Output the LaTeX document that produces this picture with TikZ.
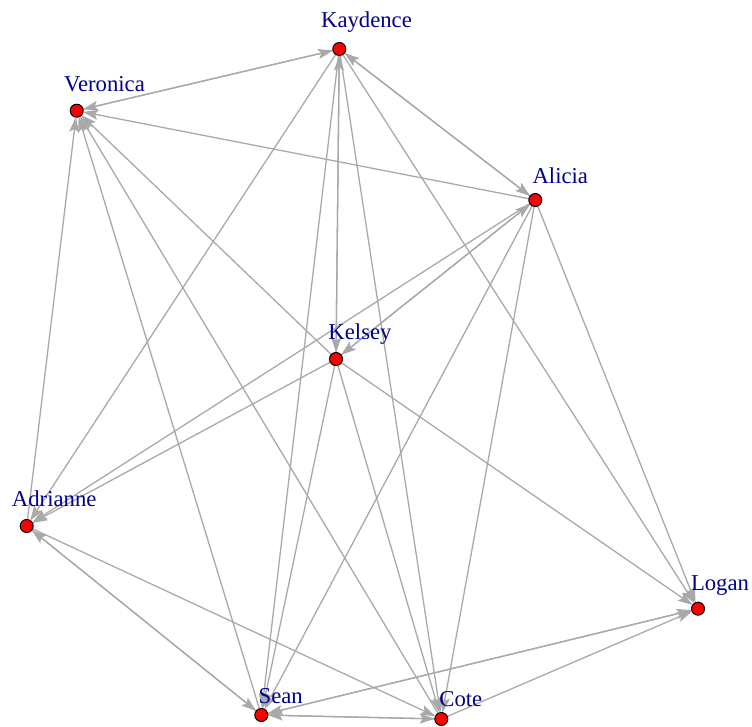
\documentclass[tikz,border=0pt]{standalone}
\usepackage{fontspec}
\setmainfont{Liberation Serif}
\usetikzlibrary{arrows.meta,backgrounds}

\definecolor{edgegrey}{HTML}{A9A9A9}
\definecolor{labelblue}{HTML}{00008B}

\tikzset{
  vertex/.style={circle, fill=red, draw=black, line width=1pt,
                 minimum size=13pt, inner sep=0pt, outer sep=0pt},
  vlabel/.style={anchor=base, inner sep=0pt, text=labelblue,
                 font=\fontsize{22.7}{24}\selectfont},
  edge/.style={draw=edgegrey, line width=1.3pt,
               -{Stealth[length=15pt, width=10pt, inset=3pt]}},
}

\begin{document}
\begin{tikzpicture}[x=1pt, y=-1pt]
  \useasboundingbox (0,0) rectangle (752,726);

  % vertices
  \node[vertex] (kay) at (339.3, 49.0) {};
  \node[vertex] (ver) at (76.7, 110.7) {};
  \node[vertex] (ali) at (535.3, 200.0) {};
  \node[vertex] (kel) at (336.0, 359.0) {};
  \node[vertex] (adr) at (26.7, 526.0) {};
  \node[vertex] (log) at (698.0, 608.7) {};
  \node[vertex] (sea) at (261.3, 715.0) {};
  \node[vertex] (cot) at (441.3, 719.0) {};

  % edges, kept under the vertices
  \begin{pgfonlayer}{background}
    \draw[edge] (ver) -- (kay);
    \draw[edge] (kay) -- (ver);
    \draw[edge] (kay) -- (ali);
    \draw[edge] (ali) -- (kay);
    \draw[edge] (kay) -- (kel);
    \draw[edge] (kel) -- (kay);
    \draw[edge] (kay) -- (adr);
    \draw[edge] (kay) -- (sea);
    \draw[edge] (kay) -- (cot);
    \draw[edge] (kay) -- (log);
    \draw[edge] (ali) -- (ver);
    \draw[edge] (adr) -- (ver);
    \draw[edge] (sea) -- (ver);
    \draw[edge] (cot) -- (ver);
    \draw[edge] (kel) -- (ver);
    \draw[edge] (ali) -- (kel);
    \draw[edge] (kel) -- (ali);
    \draw[edge] (ali) -- (adr);
    \draw[edge] (ali) -- (sea);
    \draw[edge] (ali) -- (cot);
    \draw[edge] (ali) -- (log);
    \draw[edge] (kel) -- (adr);
    \draw[edge] (kel) -- (sea);
    \draw[edge] (kel) -- (cot);
    \draw[edge] (kel) -- (log);
    \draw[edge] (adr) -- (sea);
    \draw[edge] (sea) -- (adr);
    \draw[edge] (adr) -- (cot);
    \draw[edge] (sea) -- (cot);
    \draw[edge] (cot) -- (sea);
    \draw[edge] (sea) -- (log);
    \draw[edge] (log) -- (sea);
    \draw[edge] (cot) -- (log);
  \end{pgfonlayer}

  % vertex labels
  \node[vlabel] (kayl) at (366.5, 27.3) {Kaydence};
  \node[vlabel] (verl) at (104.5, 91.7) {Veronica};
  \node[vlabel] (alil) at (560.3, 183.3) {Alicia};
  \node[vlabel] (kell) at (360.0, 339.3) {Kelsey};
  \node[vlabel] (adrl) at (54.2, 506.7) {Adrianne};
  \node[vlabel] (logl) at (720.0, 590.7) {Logan};
  \node[vlabel] (seal) at (280.7, 703.3) {Sean};
  \node[vlabel] (cotl) at (460.8, 706.7) {Cote};
\end{tikzpicture}
\end{document}
